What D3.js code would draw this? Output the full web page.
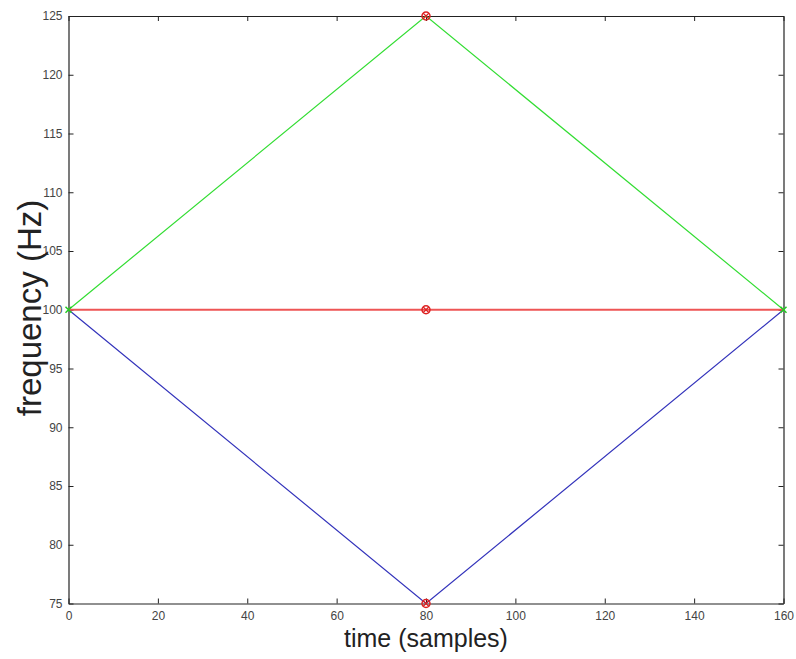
<!DOCTYPE html>
<html><head><meta charset="utf-8">
<script src="https://cdn.jsdelivr.net/npm/d3@7/dist/d3.min.js"></script>
<style>body{margin:0;background:#fff}svg{display:block}</style>
</head><body>
<svg id="chart" width="796" height="659"></svg>
<script>
const xTicks = [0, 20, 40, 60, 80, 100, 120, 140, 160];
const yTicks = [75, 80, 85, 90, 95, 100, 105, 110, 115, 120, 125];
const timeSamples = [0, 80, 160];
const upperSweep = [100, 125, 100];
const constantFreq = [100, 100, 100];
const lowerSweep = [100, 75, 100];
const midMarkerT = [80, 80, 80];
const midMarkerF = [125, 100, 75];
const endMarkerT = [0, 160];
const endMarkerF = [100, 100];

const svg = d3.select("#chart");
const m = {l: 68.5, r: 783.5, t: 16, b: 603.5};
const x = d3.scaleLinear().domain([0, 160]).range([m.l, m.r]);
const y = d3.scaleLinear().domain([75, 125]).range([m.b, m.t]);

const font = "Liberation Sans, Arial, Helvetica, sans-serif";

const gx = svg.append("g").attr("transform", `translate(0,${m.b})`)
  .call(d3.axisBottom(x).tickValues(xTicks).tickSizeInner(-5).tickSizeOuter(0).tickPadding(8));
const gxTop = svg.append("g").attr("transform", `translate(0,${m.t})`)
  .call(d3.axisTop(x).tickValues(xTicks).tickSizeInner(-5).tickSizeOuter(0).tickFormat(""));
const gy = svg.append("g").attr("transform", `translate(${m.l},0)`)
  .call(d3.axisLeft(y).tickValues(yTicks).tickSizeInner(-5).tickSizeOuter(0).tickPadding(6));
const gyR = svg.append("g").attr("transform", `translate(${m.r},0)`)
  .call(d3.axisRight(y).tickValues(yTicks).tickSizeInner(-5).tickSizeOuter(0).tickFormat(""));
[gx, gxTop, gy, gyR].forEach(g => {
  g.selectAll("path.domain").attr("stroke", "#222").attr("stroke-width", 1.2);
  g.selectAll(".tick line").attr("stroke", "#222");
  g.selectAll("text").attr("font-family", font).attr("font-size", 12).attr("fill", "#444");
});

function lineOf(ts, fs) {
  return d3.line().x(d => x(d[0])).y(d => y(d[1]))(ts.map((t, i) => [t, fs[i]]));
}
const plot = svg.append("g");
plot.append("path").attr("d", lineOf(timeSamples, upperSweep)).attr("fill", "none").attr("stroke", "#33dd33").attr("stroke-width", 1.2);
plot.append("path").attr("d", lineOf(timeSamples, lowerSweep)).attr("fill", "none").attr("stroke", "#3333bb").attr("stroke-width", 1.2);
plot.append("path").attr("d", lineOf(timeSamples, constantFreq)).attr("fill", "none").attr("stroke", "#ee5555").attr("stroke-width", 2.2);

endMarkerT.forEach((t, i) => {
  const cx = x(t), cy = y(endMarkerF[i]);
  plot.append("path").attr("d", `M${cx-3},${cy-3}L${cx+3},${cy+3}M${cx-3},${cy+3}L${cx+3},${cy-3}`)
    .attr("stroke", "#22cc22").attr("stroke-width", 1.5);
});
midMarkerT.forEach((t, i) => {
  const cx = x(t), cy = y(midMarkerF[i]);
  plot.append("circle").attr("cx", cx).attr("cy", cy).attr("r", 4).attr("fill", "none").attr("stroke", "#dd2222").attr("stroke-width", 1.5);
  plot.append("path").attr("d", `M${cx-3},${cy-3}L${cx+3},${cy+3}M${cx-3},${cy+3}L${cx+3},${cy-3}`)
    .attr("stroke", "#dd2222").attr("stroke-width", 1.2);
});

svg.append("text").attr("x", (m.l + m.r) / 2).attr("y", 647).attr("text-anchor", "middle")
  .attr("font-family", font).attr("font-size", 25).attr("fill", "#222").text("time (samples)");
svg.append("text").attr("transform", `translate(41,${308}) rotate(-90)`).attr("text-anchor", "middle")
  .attr("font-family", font).attr("font-size", 33).attr("fill", "#222").text("frequency (Hz)");
</script>
</body></html>
